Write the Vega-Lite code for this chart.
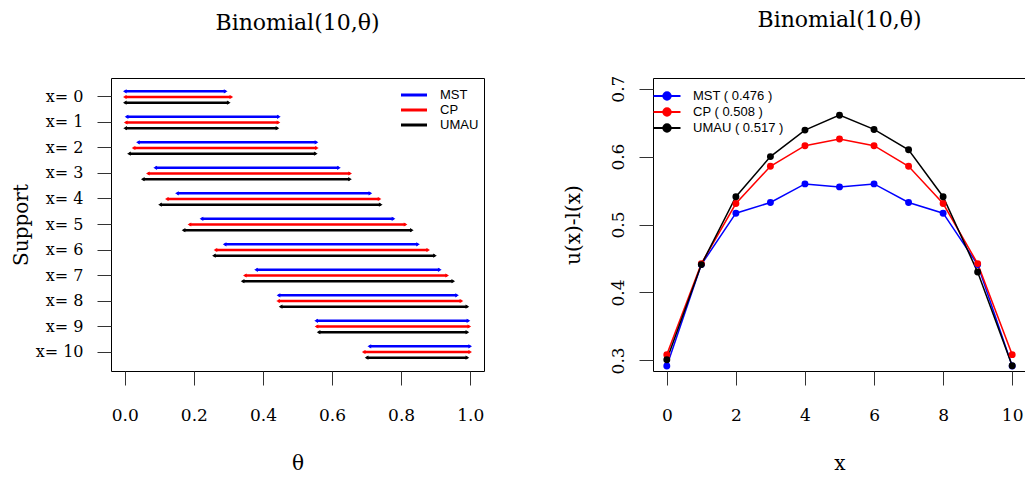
{
  "$schema": "https://vega.github.io/schema/vega-lite/v6.json",
  "padding": {"left": 10, "top": 8, "right": 0, "bottom": 0},
  "background": "white",
  "spacing": 77,
  "config": {
    "view": {"stroke": "black", "strokeWidth": 1},
    "axis": {"labelFont": "DejaVu Serif", "titleFont": "DejaVu Serif", "labelFontSize": 17, "titleFontSize": 20, "titleFontWeight": "normal", "labelColor": "black", "titleColor": "black", "tickColor": "#333", "tickSize": 14, "domain": false, "grid": false},
    "title": {"font": "DejaVu Serif", "fontSize": 22, "fontWeight": "normal", "color": "black"},
    "legend": {"labelFont": "Liberation Sans", "labelFontSize": 13, "labelColor": "black"}
  },
  "datasets": {
    "intervals": [
      {"x": 0, "method": "MST", "lo": 0.0, "hi": 0.292},
      {"x": 1, "method": "MST", "lo": 0.005, "hi": 0.446},
      {"x": 2, "method": "MST", "lo": 0.038, "hi": 0.555},
      {"x": 3, "method": "MST", "lo": 0.088, "hi": 0.620},
      {"x": 4, "method": "MST", "lo": 0.151, "hi": 0.711},
      {"x": 5, "method": "MST", "lo": 0.222, "hi": 0.778},
      {"x": 6, "method": "MST", "lo": 0.289, "hi": 0.849},
      {"x": 7, "method": "MST", "lo": 0.380, "hi": 0.912},
      {"x": 8, "method": "MST", "lo": 0.445, "hi": 0.962},
      {"x": 9, "method": "MST", "lo": 0.554, "hi": 0.995},
      {"x": 10, "method": "MST", "lo": 0.708, "hi": 1.0},
      {"x": 0, "method": "CP", "lo": 0.0, "hi": 0.3085},
      {"x": 1, "method": "CP", "lo": 0.0025, "hi": 0.4450},
      {"x": 2, "method": "CP", "lo": 0.0252, "hi": 0.5561},
      {"x": 3, "method": "CP", "lo": 0.0667, "hi": 0.6525},
      {"x": 4, "method": "CP", "lo": 0.1216, "hi": 0.7376},
      {"x": 5, "method": "CP", "lo": 0.1871, "hi": 0.8129},
      {"x": 6, "method": "CP", "lo": 0.2624, "hi": 0.8784},
      {"x": 7, "method": "CP", "lo": 0.3475, "hi": 0.9333},
      {"x": 8, "method": "CP", "lo": 0.4439, "hi": 0.9748},
      {"x": 9, "method": "CP", "lo": 0.5550, "hi": 0.9975},
      {"x": 10, "method": "CP", "lo": 0.6915, "hi": 1.0},
      {"x": 0, "method": "UMAU", "lo": 0.0, "hi": 0.301},
      {"x": 1, "method": "UMAU", "lo": 0.001, "hi": 0.442},
      {"x": 2, "method": "UMAU", "lo": 0.012, "hi": 0.553},
      {"x": 3, "method": "UMAU", "lo": 0.052, "hi": 0.652},
      {"x": 4, "method": "UMAU", "lo": 0.102, "hi": 0.741},
      {"x": 5, "method": "UMAU", "lo": 0.170, "hi": 0.831},
      {"x": 6, "method": "UMAU", "lo": 0.258, "hi": 0.898},
      {"x": 7, "method": "UMAU", "lo": 0.341, "hi": 0.951},
      {"x": 8, "method": "UMAU", "lo": 0.451, "hi": 0.992},
      {"x": 9, "method": "UMAU", "lo": 0.561, "hi": 0.992},
      {"x": 10, "method": "UMAU", "lo": 0.700, "hi": 0.992}
    ],
    "lengths": [
      {"x": 0, "label": "MST ( 0.476 )", "len": 0.2917},
      {"x": 1, "label": "MST ( 0.476 )", "len": 0.441},
      {"x": 2, "label": "MST ( 0.476 )", "len": 0.5167},
      {"x": 3, "label": "MST ( 0.476 )", "len": 0.5324},
      {"x": 4, "label": "MST ( 0.476 )", "len": 0.5598},
      {"x": 5, "label": "MST ( 0.476 )", "len": 0.5554},
      {"x": 6, "label": "MST ( 0.476 )", "len": 0.5598},
      {"x": 7, "label": "MST ( 0.476 )", "len": 0.5324},
      {"x": 8, "label": "MST ( 0.476 )", "len": 0.5167},
      {"x": 9, "label": "MST ( 0.476 )", "len": 0.441},
      {"x": 10, "label": "MST ( 0.476 )", "len": 0.2917},
      {"x": 0, "label": "CP ( 0.508 )", "len": 0.3085},
      {"x": 1, "label": "CP ( 0.508 )", "len": 0.4425},
      {"x": 2, "label": "CP ( 0.508 )", "len": 0.5309},
      {"x": 3, "label": "CP ( 0.508 )", "len": 0.5858},
      {"x": 4, "label": "CP ( 0.508 )", "len": 0.6160},
      {"x": 5, "label": "CP ( 0.508 )", "len": 0.6258},
      {"x": 6, "label": "CP ( 0.508 )", "len": 0.6160},
      {"x": 7, "label": "CP ( 0.508 )", "len": 0.5858},
      {"x": 8, "label": "CP ( 0.508 )", "len": 0.5309},
      {"x": 9, "label": "CP ( 0.508 )", "len": 0.4425},
      {"x": 10, "label": "CP ( 0.508 )", "len": 0.3085},
      {"x": 0, "label": "UMAU ( 0.517 )", "len": 0.301},
      {"x": 1, "label": "UMAU ( 0.517 )", "len": 0.441},
      {"x": 2, "label": "UMAU ( 0.517 )", "len": 0.541},
      {"x": 3, "label": "UMAU ( 0.517 )", "len": 0.600},
      {"x": 4, "label": "UMAU ( 0.517 )", "len": 0.639},
      {"x": 5, "label": "UMAU ( 0.517 )", "len": 0.661},
      {"x": 6, "label": "UMAU ( 0.517 )", "len": 0.640},
      {"x": 7, "label": "UMAU ( 0.517 )", "len": 0.610},
      {"x": 8, "label": "UMAU ( 0.517 )", "len": 0.541},
      {"x": 9, "label": "UMAU ( 0.517 )", "len": 0.430},
      {"x": 10, "label": "UMAU ( 0.517 )", "len": 0.292}
    ]
  },
  "resolve": {"scale": {"color": "independent"}, "legend": {"color": "independent"}},
  "hconcat": [
    {
      "width": 373,
      "height": 293,
      "title": {"text": "Binomial(10,θ)", "offset": 43},
      "data": {"name": "intervals"},
      "encoding": {
        "y": {"field": "x", "type": "ordinal", "scale": {"paddingInner": 0, "paddingOuter": 0.245},
              "axis": {"title": "Support", "labelExpr": "'x= ' + datum.value", "labelAngle": 0, "labelFontSize": 16, "labelPadding": 14, "titlePadding": 4}},
        "yOffset": {"field": "method", "type": "nominal", "scale": {"domain": ["MST", "CP", "UMAU"], "paddingInner": 0, "paddingOuter": 0.737}},
        "color": {"field": "method", "type": "nominal",
                  "scale": {"domain": ["MST", "CP", "UMAU"], "range": ["#0000FF", "#FF0000", "#000000"]},
                  "legend": {"title": null, "orient": "none", "legendX": 295, "legendY": 9, "symbolType": "M-2,0L2,0", "symbolSize": 169, "symbolStrokeWidth": 3, "labelOffset": 18, "rowPadding": -1}}
      },
      "layer": [
        {"mark": {"type": "rule", "strokeWidth": 2.5},
         "encoding": {"x": {"field": "lo", "type": "quantitative", "scale": {"domain": [-0.04, 1.04], "nice": false, "zero": false},
                            "axis": {"title": "θ", "values": [0, 0.2, 0.4, 0.6, 0.8, 1.0], "format": ".1f", "labelPadding": 22, "titlePadding": 30}},
                      "x2": {"field": "hi"}}},
        {"mark": {"type": "point", "shape": "triangle-left", "filled": true, "size": 18, "opacity": 1},
         "encoding": {"x": {"field": "lo", "type": "quantitative"}}},
        {"mark": {"type": "point", "shape": "triangle-right", "filled": true, "size": 18, "opacity": 1},
         "encoding": {"x": {"field": "hi", "type": "quantitative"}}}
      ]
    },
    {
      "width": 373,
      "height": 293,
      "title": {"text": "Binomial(10,θ)", "offset": 43},
      "data": {"name": "lengths"},
      "encoding": {
        "x": {"field": "x", "type": "quantitative", "scale": {"domain": [-0.4, 10.4], "nice": false, "zero": false},
              "axis": {"title": "x", "values": [0, 2, 4, 6, 8, 10], "labelPadding": 22, "titlePadding": 30}},
        "y": {"field": "len", "type": "quantitative", "scale": {"domain": [0.2844, 0.7157], "nice": false, "zero": false},
              "axis": {"title": "u(x)-l(x)", "values": [0.3, 0.4, 0.5, 0.6, 0.7], "format": ".1f", "labelAngle": -90, "labelAlign": "center", "labelBaseline": "bottom", "labelPadding": 12, "titlePadding": 26}},
        "color": {"field": "label", "type": "nominal", "sort": ["MST ( 0.476 )", "CP ( 0.508 )", "UMAU ( 0.517 )"],
                  "scale": {"domain": ["MST ( 0.476 )", "CP ( 0.508 )", "UMAU ( 0.517 )"], "range": ["#0000FF", "#FF0000", "#000000"]},
                  "legend": {"title": null, "orient": "none", "legendX": 6, "legendY": 10, "symbolType": "M-2,0L2,0M-0.55,0A0.55,0.55,0,1,0,0.55,0A0.55,0.55,0,1,0,-0.55,0Z", "symbolSize": 182, "symbolStrokeWidth": 2, "labelOffset": 18, "rowPadding": -1}}
      },
      "layer": [
        {"mark": {"type": "line", "strokeWidth": 1.5}},
        {"mark": {"type": "point", "filled": true, "size": 48, "opacity": 1}}
      ]
    }
  ]
}
